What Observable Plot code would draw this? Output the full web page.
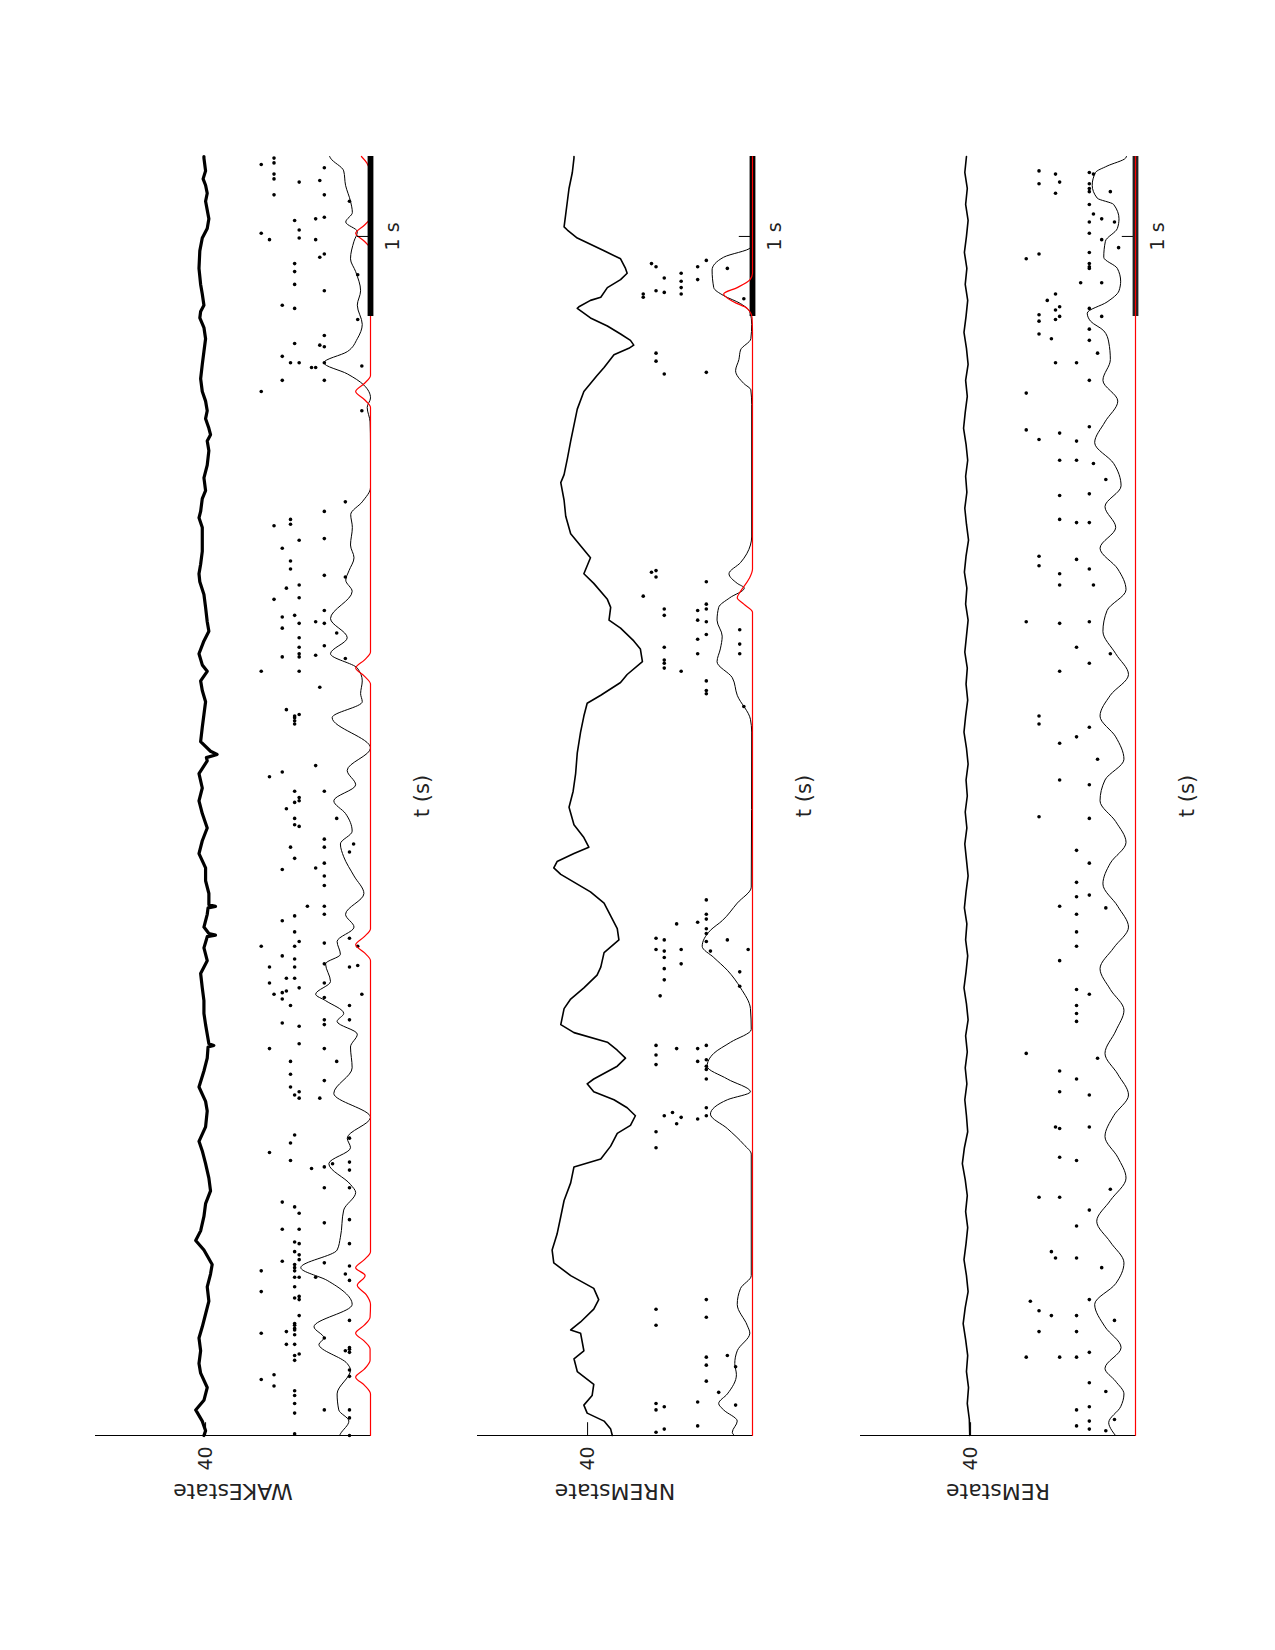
<!DOCTYPE html>
<html><head><meta charset="utf-8">
<script src="https://cdn.jsdelivr.net/npm/d3@7"></script>
<script src="https://cdn.jsdelivr.net/npm/@observablehq/plot@0.6"></script>
<style>
html,body{margin:0;padding:0;background:#fff;}
#fig{position:relative;width:1275px;height:1650px;overflow:hidden;}
#fig svg{position:absolute;top:0;}
</style></head><body><div id="fig"></div>
<script>
// value of each raster row (row index 0 = top row)
const rowValues = [26.5,25.5,24.5,23.4,22.4,21.4,20.4,19.4,18.4,17.3,16.3,15.3,14.3,13.3,12.3,11.2,10.2,9.2,8.2,7.2,6.1,5.1,4.1,3.1,2.1,1.05];
const yTicks = [40];
const scaleBar = [{start: 7, end: 8, label: "1 s"}];
const xLabel = "t (s)";
const valueMax = 66.7;
const tMax = 8;

// ---------- WAKE ----------
const wakeTrace = [[8.0,40.4],[7.99,40.4],[7.91,40.0],[7.86,40.6],[7.82,40.0],[7.77,39.6],[7.72,40.0],[7.61,39.2],[7.55,39.6],[7.49,40.8],[7.41,41.4],[7.30,41.6],[7.20,41.2],[7.14,40.8],[7.07,40.4],[7.03,41.2],[6.99,41.4],[6.93,40.4],[6.86,40.0],[6.78,40.4],[6.70,40.8],[6.61,41.2],[6.53,40.8],[6.47,40.0],[6.41,39.6],[6.36,40.0],[6.30,39.2],[6.26,38.8],[6.22,39.6],[6.16,39.2],[6.07,39.6],[5.99,40.4],[5.91,40.0],[5.86,40.8],[5.78,41.2],[5.74,41.6],[5.68,40.8],[5.62,40.8],[5.53,40.8],[5.45,41.2],[5.39,41.6],[5.34,41.4],[5.26,40.4],[5.18,40.0],[5.09,39.6],[5.03,39.2],[4.97,40.4],[4.89,41.6],[4.82,40.8],[4.78,39.6],[4.72,41.2],[4.66,40.8],[4.59,40.0],[4.51,40.4],[4.43,40.8],[4.34,41.2],[4.28,38.8],[4.26,37.2],[4.24,39.8],[4.22,39.6],[4.14,41.6],[4.05,40.8],[3.97,41.6],[3.89,40.8],[3.80,39.6],[3.72,40.8],[3.64,41.6],[3.55,40.0],[3.47,40.0],[3.39,39.2],[3.32,39.2],[3.31,37.6],[3.30,39.4],[3.26,39.6],[3.18,40.4],[3.14,39.2],[3.13,37.6],[3.12,39.6],[3.05,40.4],[2.97,39.6],[2.89,41.2],[2.80,40.8],[2.72,40.4],[2.64,40.4],[2.57,40.0],[2.45,39.2],[2.44,38.0],[2.43,39.4],[2.36,39.6],[2.28,40.4],[2.18,41.6],[2.09,40.0],[2.03,39.6],[1.93,40.0],[1.84,41.6],[1.78,40.8],[1.70,40.0],[1.61,39.2],[1.53,38.8],[1.45,40.0],[1.37,40.4],[1.28,41.2],[1.22,42.4],[1.16,40.4],[1.07,38.4],[1.01,38.8],[0.93,39.6],[0.84,39.2],[0.76,40.0],[0.68,40.8],[0.61,41.6],[0.53,41.2],[0.45,41.6],[0.39,41.2],[0.30,39.6],[0.22,40.4],[0.16,42.4],[0.09,40.8],[0.03,40.0],[0.0,40.4]];
const wakeSpikes = [[7.99,3],[7.96,3],[7.95,0],[7.89,3],[7.86,3],[7.93,15],[7.85,14],[7.84,9],[7.76,3],[7.76,15],[7.72,21],[7.62,15],[7.61,13],[7.60,8],[7.54,9],[7.52,0],[7.48,2],[7.49,9],[7.48,13],[7.39,15],[7.37,14],[7.33,8],[7.28,8],[7.26,23],[7.20,8],[7.16,15],[7.07,5],[7.05,8],[6.98,23],[6.88,15],[6.83,8],[6.82,14],[6.81,15],[6.75,5],[6.71,7],[6.71,9],[6.71,15],[6.68,12],[6.68,13],[6.69,24],[6.60,5],[6.60,15],[6.53,0],[6.41,24],[5.84,20],[5.78,15],[5.73,7],[5.70,7],[5.69,3],[5.60,9],[5.61,15],[5.55,5],[5.47,7],[5.42,7],[5.38,15],[5.37,20],[5.30,6],[5.32,9],
[5.23,3],[5.24,9],[5.16,15],[5.12,5],[5.13,8],[5.08,9],[5.09,13],[5.08,15],[5.05,5],[5.02,18],[4.99,9],[4.93,9],[4.94,15],[4.89,9],[4.87,5],[4.87,9],[4.88,13],[4.86,20],[4.78,0],[4.78,9],[4.68,14],[4.54,6],[4.50,8],[4.51,9],[4.49,8],[4.47,8],[4.45,8],[4.19,13],[4.15,5],[4.12,2],[4.03,15],[4.03,8],[3.99,9],[3.97,9],[3.96,8],[3.92,6],[3.86,8],[3.86,18],[3.82,8],[3.81,9],[3.73,15],[3.70,22],[3.68,15],[3.68,7],[3.65,21],[3.61,8],[3.58,15],[3.54,5],[3.55,13],[3.50,15],[3.44,15],[3.31,11],[3.31,15],[3.26,15],[3.25,8],[3.22,5],[3.15,8],[3.11,21],[3.09,9],[3.06,0],[3.06,8],[3.08,15],[3.06,23],[3.00,5],[2.98,8],[2.95,15],[2.93,2],[2.93,8],[2.93,21],[2.94,23],[2.86,6],[2.86,8],[2.83,2],[2.83,15],[2.80,9],[2.77,5],[2.78,6],[2.76,3],[2.76,24],[2.73,5],[2.74,15],[2.69,7],[2.69,21],[2.60,15],[2.60,21],
[2.57,15],[2.58,5],[2.56,9],[2.45,9],[2.42,2],[2.42,15],[2.34,18],[2.34,7],[2.26,7],[2.22,15],[2.18,7],[2.13,8],[2.15,9],[2.11,9],[2.11,14],[1.88,8],[1.83,7],[1.86,21],[1.77,2],[1.72,7],[1.67,12],[1.68,15],[1.70,17],[1.71,21],[1.66,21],[1.55,15],[1.55,21],[1.46,5],[1.43,8],[1.39,9],[1.33,15],[1.35,21],[1.29,5],[1.29,9],[1.21,8],[1.20,9],[1.20,21],[1.15,8],[1.13,9],[1.09,5],[1.10,9],[1.07,8],[1.08,15],[1.03,0],[1.05,8],[1.03,8],[1.06,21],[1.01,20],[0.99,8],[0.99,9],[0.99,13],[0.97,21],[0.93,8],[0.90,0],[0.86,8],[0.87,9],[0.85,9],[0.75,9],[0.72,21],[0.70,8],[0.69,8],[0.67,8],[0.66,8],[0.63,8],[0.65,6],[0.64,0],[0.61,15],[0.57,6],[0.57,8],[0.55,21],[0.53,20],[0.54,21],[0.52,21],[0.51,9],[0.50,8],[0.47,8],[0.41,21],[0.37,21],[0.38,3],[0.35,0],[0.31,3],[0.28,8],[0.25,8],[0.20,8],[0.16,15],[0.14,8],[0.16,21],[0.11,21],[0.01,8],[0.00,21]];
const wakeRate = [[8.0,9.9],[7.99,9.7],[7.91,6.5],[7.82,6.05],[7.72,4.85],[7.65,4.4],[7.59,6.0],[7.53,3.2],[7.47,4.0],[7.36,4.85],[7.28,3.6],[7.16,2.4],[7.07,3.2],[6.95,2.0],[6.86,3.2],[6.78,5.6],[6.71,11.3],[6.64,5.6],[6.57,1.6],[6.49,0.0],[6.43,0.8],[6.34,0.1],[6.2,0],[6.05,0],[5.93,0.0],[5.84,2.0],[5.76,4.8],[5.68,4.4],[5.57,4.85],[5.49,4.0],[5.41,5.2],[5.35,6.0],[5.28,4.45],[5.11,9.7],[4.99,5.65],[4.89,9.7],[4.80,3.2],[4.72,2.0],[4.64,2.4],[4.59,2.0],[4.49,9.3],[4.30,0.0],[4.16,5.65],[4.07,3.6],[3.97,8.9],[3.89,6.05],[3.78,4.45],[3.70,7.3],[3.62,6.5],[3.50,4.0],[3.39,1.6],[3.26,6.05],[3.18,4.0],[3.09,8.1],[3.01,7.3],[2.95,10.9],[2.84,9.7],[2.76,13.3],[2.72,10.9],[2.64,6.5],[2.59,8.1],[2.51,3.2],[2.43,4.85],[2.30,4.45],[2.14,8.9],[1.99,0.0],[1.86,5.65],[1.80,4.85],[1.70,10.1],[1.57,4.85],[1.52,3.6],[1.41,6.5],[1.24,7.3],[1.16,8.1],[1.05,16.9],[0.97,10.5],[0.82,4.45],[0.68,13.7],[0.61,11.3],[0.57,12.5],[0.45,5.65],[0.41,4.85],[0.26,8.1],[0.16,7.7],[0.09,5.25],[0.01,7.3],[0,7.5]];
const wakeRed = [[8.0,2.2],[7.96,0.9],[7.91,0.15],[7.86,0],[7.62,0],[7.57,1.5],[7.52,3.6],[7.47,1.5],[7.42,0],[6.63,0],[6.58,1.5],[6.53,3.6],[6.48,1.5],[6.43,0],[4.90,0],[4.85,1.5],[4.80,3.6],[4.75,1.5],[4.70,0],[3.17,0],[3.12,1.5],[3.07,3.6],[3.02,1.5],[2.97,0],[1.15,0],[1.10,1.5],[1.05,3.6],[1.00,1.3],[0.94,3.2],[0.88,1.0],[0.82,0],[0.74,0.1],[0.69,1.5],[0.64,3.6],[0.59,1.5],[0.54,0.1],[0.47,0.1],[0.415,1.5],[0.365,3.6],[0.315,1.5],[0.26,0],[0,0]];

// ---------- NREM ----------
const nremTrace = [[8.0,43.3],[7.99,43.3],[7.90,43.7],[7.80,44.5],[7.72,44.9],[7.64,45.3],[7.56,45.7],[7.54,44.9],[7.49,42.5],[7.41,36.0],[7.36,32.0],[7.30,30.8],[7.27,30.4],[7.23,32.0],[7.18,35.2],[7.12,36.8],[7.10,39.3],[7.06,42.1],[7.05,42.5],[6.99,39.3],[6.94,35.2],[6.89,32.0],[6.85,29.6],[6.82,28.8],[6.80,30.0],[6.76,33.6],[6.68,36.0],[6.63,37.7],[6.58,39.3],[6.53,40.9],[6.42,42.5],[6.32,43.3],[6.22,44.1],[6.11,44.9],[6.01,45.7],[5.96,46.5],[5.85,45.7],[5.75,45.3],[5.64,44.1],[5.59,42.5],[5.54,40.9],[5.49,39.3],[5.44,40.1],[5.39,40.9],[5.33,38.5],[5.23,35.2],[5.18,34.4],[5.10,34.8],[5.05,32.0],[4.97,28.8],[4.92,27.2],[4.84,26.7],[4.76,30.4],[4.71,32.0],[4.63,36.8],[4.58,40.1],[4.50,40.9],[4.40,41.7],[4.27,42.5],[4.14,42.9],[4.03,43.5],[3.93,44.5],[3.82,43.3],[3.74,40.9],[3.68,39.7],[3.64,43.3],[3.59,47.4],[3.55,48.2],[3.51,46.5],[3.40,39.3],[3.33,36.0],[3.25,34.4],[3.17,32.8],[3.10,32.4],[3.02,36.0],[2.93,36.8],[2.88,37.7],[2.80,40.9],[2.73,44.1],[2.67,45.7],[2.57,46.5],[2.52,43.3],[2.46,35.2],[2.41,32.8],[2.36,30.8],[2.31,32.8],[2.23,38.5],[2.20,40.1],[2.15,38.5],[2.10,33.6],[2.05,30.4],[2.00,28.4],[1.94,29.6],[1.89,32.8],[1.81,34.4],[1.73,36.8],[1.68,43.3],[1.58,44.1],[1.47,45.7],[1.37,46.5],[1.26,47.4],[1.16,48.6],[1.08,48.2],[1.00,44.1],[0.92,38.5],[0.85,37.3],[0.79,38.5],[0.71,41.7],[0.66,44.1],[0.64,41.7],[0.53,40.9],[0.48,43.3],[0.40,42.5],[0.32,38.5],[0.25,38.9],[0.19,40.9],[0.14,40.1],[0.09,36.0],[0.04,34.4],[0.0,34.0]];
const nremSpikes = [[7.35,15],[7.33,2],[7.31,3],[7.31,13],[7.30,20],[7.27,9],[7.24,5],[7.23,13],[7.22,9],[7.18,9],[7.14,0],[7.12,0],[7.16,3],[7.15,5],[7.14,9],[7.11,24],[6.77,3],[6.72,3],[6.64,5],[6.65,15],[5.40,2],[5.41,3],[5.37,3],[5.34,15],[5.25,0],[5.17,5],[5.13,5],[5.16,13],[5.20,15],[5.17,15],[5.10,13],[5.09,15],[5.04,23],[4.98,13],[5.01,15],[4.95,23],[4.93,5],[4.89,13],[4.89,23],[4.85,5],[4.83,5],[4.80,5],[4.78,9],[4.72,15],[4.66,15],[4.64,15],[4.56,24],
[3.35,15],[3.26,15],[3.21,13],[3.20,8],[3.23,15],[3.17,15],[3.14,15],[3.11,3],[3.10,5],[3.09,15],[3.10,20],[3.04,3],[3.03,5],[3.04,9],[3.03,16],[3.04,25],[2.99,5],[2.92,5],[2.95,9],[2.90,23],[2.85,5],[2.81,23],[2.75,4],[2.44,3],[2.42,8],[2.42,13],[2.44,15],[2.38,3],[2.34,13],[2.35,15],[2.32,3],[2.31,15],[2.29,15],[2.23,15],[2.05,15],[2.00,15],[2.00,5],[2.02,7],[1.95,8],[1.99,9],[1.98,13],[1.90,3],[1.80,3],[0.85,15],[0.79,3],[0.74,15],[0.69,3],[0.49,15],[0.50,20],[0.44,15],[0.43,22],[0.34,15],[0.27,18],[0.20,3],[0.16,3],[0.02,3],[0.18,5],[0.04,5],[0.21,13],[0.06,13],[0.19,22]];
const nremRate = [[8.0,0.2],[7.45,0.3],[7.43,0.5],[7.37,7.0],[7.29,9.8],[7.18,9.4],[7.13,7.0],[7.08,2.9],[7.02,0.5],[6.95,0.2],[6.86,0.4],[6.79,2.9],[6.73,3.3],[6.66,4.1],[6.58,2.1],[6.54,0.4],[6.45,0.2],[5.62,0.2],[5.57,0.5],[5.46,2.9],[5.39,5.7],[5.33,3.7],[5.30,2.0],[5.24,5.5],[5.18,8.2],[5.10,8.6],[5.00,7.35],[4.92,7.8],[4.84,8.6],[4.74,4.9],[4.63,3.7],[4.48,0.5],[4.40,0.2],[3.43,0.3],[3.33,3.7],[3.22,7.35],[3.16,10.2],[3.06,12.2],[2.99,9.4],[2.91,6.1],[2.80,2.9],[2.67,0.5],[2.54,0.3],[2.46,5.3],[2.39,9.4],[2.31,11.0],[2.23,6.1],[2.15,0.5],[2.10,6.1],[2.01,10.2],[1.92,6.1],[1.82,2.1],[1.76,0.3],[1.00,0.3],[0.92,2.9],[0.82,3.7],[0.69,1.3],[0.64,0.65],[0.53,3.7],[0.45,4.3],[0.38,3.9],[0.26,6.1],[0.20,8.2],[0.16,7.0],[0.09,3.7],[0.02,4.9],[0.0,4.4]];
const nremRed = [[8.0,0],[7.27,0],[7.23,0.6],[7.18,3.7],[7.14,7.0],[7.09,4.5],[7.05,1.3],[6.99,0.1],[6.9,0],[5.42,0],[5.36,0.8],[5.28,2.9],[5.24,3.7],[5.20,2.1],[5.15,0],[0,0]];

// ---------- REM ----------
const remTrace = [[8.0,41.0],[7.9,41.4],[7.8,40.8],[7.7,41.2],[7.6,40.6],[7.5,41.0],[7.4,41.5],[7.3,40.9],[7.2,41.3],[7.1,40.7],[7.0,41.1],[6.9,41.6],[6.8,41.0],[6.7,40.6],[6.6,41.2],[6.5,40.8],[6.4,41.3],[6.3,41.7],[6.2,41.1],[6.1,40.7],[6.0,41.2],[5.9,40.9],[5.8,41.4],[5.7,41.0],[5.6,40.5],[5.5,41.1],[5.4,41.5],[5.3,40.9],[5.2,41.2],[5.1,40.6],[5.0,41.0],[4.9,41.4],[4.8,40.8],[4.7,41.1],[4.6,40.7],[4.5,41.2],[4.4,41.6],[4.3,41.0],[4.2,40.6],[4.1,41.1],[4.0,40.8],[3.9,41.3],[3.8,40.9],[3.7,41.4],[3.6,41.0],[3.5,40.6],[3.4,41.1],[3.3,41.5],[3.2,40.9],[3.1,41.2],[3.0,40.7],[2.9,41.1],[2.8,41.6],[2.7,41.0],[2.6,40.6],[2.5,41.2],[2.4,40.8],[2.3,41.3],[2.2,40.9],[2.1,41.4],[2.0,41.0],[1.9,40.7],[1.8,41.5],[1.7,42.0],[1.6,41.3],[1.5,40.8],[1.4,41.2],[1.3,40.7],[1.2,41.1],[1.1,41.6],[1.0,41.0],[0.9,40.6],[0.8,41.3],[0.7,41.8],[0.6,41.2],[0.5,40.7],[0.4,41.0],[0.3,40.5],[0.2,40.8],[0.1,40.3],[0.0,40.2]];
const remSpikes = [[7.91,3],[7.89,7],[7.84,8],[7.77,7],[7.83,3],[7.90,15],[7.89,16],[7.83,15],[7.80,15],[7.78,15],[7.78,20],[7.70,15],[7.64,16],[7.61,18],[7.59,15],[7.59,21],[7.52,15],[7.48,18],[7.43,22],[7.40,15],[7.33,15],[7.31,15],[7.30,15],[7.21,13],[7.21,18],[7.39,3],[7.10,5],[7.14,7],[7.06,8],[7.04,7],[7.00,8],[6.98,7],[7.01,3],[6.97,3],[6.86,6],[6.89,3],[7.05,15],[7.00,18],[6.92,15],[6.85,15],[7.36,0],
[6.71,7],[6.71,12],[6.60,15],[6.52,0],[6.29,0],[6.23,3],[6.27,8],[6.31,15],[6.22,12],[6.10,8],[6.10,12],[6.08,16],[5.88,8],[5.89,15],[5.73,8],[5.71,12],[5.71,15],[5.50,3],[5.44,3],[5.39,8],[5.32,8],[5.48,12],[5.42,15],[5.32,16],[5.09,0],[5.08,8],[5.09,15],[4.93,12],[4.78,8],[4.83,15],[4.50,3],[4.45,3],[4.33,8],[4.37,12],[4.43,15],[4.10,8],[4.07,15],[3.87,3],[3.86,15],[3.66,12],[3.58,15],[3.46,12],[3.37,12],[3.26,12],[3.15,12],[3.06,12],[3.31,8],[3.38,15],[2.97,8],[2.79,12],[2.69,12],[2.64,12],[2.59,12],[2.76,15],[2.39,0],[2.28,8],[2.15,8],[2.23,12],[2.13,15],[1.93,7],[1.92,8],[1.93,15],[1.74,8],[1.72,12],[1.49,3],[1.49,8],[1.31,12],[1.41,15],[1.15,6],[1.11,7],[1.11,12],[0.84,1],[0.78,3],[0.65,3],[0.75,6],[0.75,12],[0.65,12],[0.85,15],[0.49,0],[0.49,8],[0.49,12],[0.52,15],
[6.77,17],[5.98,19],[4.89,20],[4.23,17],[3.30,19],[2.36,17],[1.54,20],[1.05,18],[0.72,21],
[0.16,12],[0.06,12],[0.33,15],[0.18,15],[0.09,15],[0.04,15],[0.275,19],[0.10,21],[0.03,19]];
const remRate = [[8.0,2.2],[7.99,2.4],[7.94,6.9],[7.90,9.7],[7.82,10.5],[7.74,9.3],[7.70,5.3],[7.61,4.0],[7.55,4.4],[7.47,7.3],[7.37,7.7],[7.30,4.4],[7.22,3.6],[7.16,4.0],[7.09,6.9],[7.02,11.7],[6.97,10.9],[6.91,7.7],[6.84,6.5],[6.73,6.1],[6.60,7.9],[6.47,4.3],[6.34,7.4],[6.21,9.9],[6.08,5.3],[5.94,3.5],[5.81,7.4],[5.68,4.8],[5.55,8.6],[5.42,4.3],[5.29,2.3],[5.16,6.9],[5.03,7.9],[4.89,4.8],[4.76,1.7],[4.63,6.1],[4.50,8.6],[4.37,4.8],[4.23,2.8],[4.10,7.4],[3.97,8.6],[3.84,4.8],[3.71,2.3],[3.58,6.1],[3.45,7.9],[3.31,4.3],[3.18,1.7],[3.05,5.3],[2.92,8.6],[2.79,6.1],[2.66,2.8],[2.53,4.8],[2.39,7.4],[2.26,4.3],[2.13,1.7],[2.00,5.3],[1.87,7.4],[1.74,4.3],[1.61,2.3],[1.47,6.1],[1.34,9.4],[1.21,6.1],[1.08,2.8],[0.95,4.8],[0.82,9.9],[0.68,7.4],[0.55,3.5],[0.42,7.4],[0.34,4.85],[0.26,2.8],[0.18,3.6],[0.08,6.5],[0.03,5.7],[0.0,4.85]];
const remRed = [[8.0,0],[0,0]];

const panels = [
  {label: "WAKEstate", trace: wakeTrace, spikes: wakeSpikes, rate: wakeRate, red: wakeRed, base: 370, traceWidth: 3.2, bar: "#000", redOnTop: false},
  {label: "NREMstate", trace: nremTrace, spikes: nremSpikes, rate: nremRate, red: nremRed, base: 752, traceWidth: 1.6, bar: "#000", redOnTop: true},
  {label: "REMstate", trace: remTrace, spikes: remSpikes, rate: remRate, red: remRed, base: 1135, traceWidth: 1.6, bar: "#222", redOnTop: true}
];

const W = 383, H = 1650, PW = 275;
const fig = document.getElementById("fig");
const byT = (a) => d3.sort(a, d => d[0]);

for (const p of panels) {
  const left = p.base - PW - 25;
  const redMark = Plot.line(byT(p.red), {x: d => d[1], y: d => d[0], stroke: "#ff0000", strokeWidth: 1.2, curve: "monotone-y"});
  const barMarks = [
    Plot.ruleY(scaleBar, {y: d => (d.start + d.end) / 2, x1: 0, x2: 3.2, stroke: "#000", strokeWidth: 1}),
    Plot.ruleX(scaleBar, {x: 0, y1: "start", y2: "end", stroke: p.bar, strokeWidth: 5.8})
  ];
  const marks = [
    Plot.frame({anchor: "bottom", stroke: "#000", strokeWidth: 1}),
    Plot.ruleX(yTicks, {x: d => d, y1: 0, y2: 0.08, stroke: "#000", strokeWidth: 1}),
    Plot.text(yTicks, {x: d => d, text: d => String(d), frameAnchor: "bottom", dy: 23, rotate: -90, textAnchor: "middle", lineAnchor: "middle", fontSize: 19, fill: "#222"}),
    Plot.text([p.label], {frameAnchor: "bottom", dy: 56, rotate: 180, textAnchor: "middle", lineAnchor: "middle", fontSize: 22, fill: "#222"}),
    Plot.text([xLabel], {frameAnchor: "right", dx: 52, rotate: -90, textAnchor: "middle", lineAnchor: "middle", fontSize: 21, fill: "#222"}),
    Plot.text(scaleBar, {y: d => (d.start + d.end) / 2, text: "label", frameAnchor: "right", dx: 22, rotate: -90, textAnchor: "middle", lineAnchor: "middle", fontSize: 19, fill: "#222"}),
    Plot.line(byT(p.trace), {x: d => d[1], y: d => d[0], stroke: "#000", strokeWidth: p.traceWidth, strokeLinejoin: "round"}),
    Plot.dot(p.spikes, {x: d => rowValues[d[1]], y: d => d[0], r: 1.8, fill: "#000", stroke: "none"}),
    Plot.line(byT(p.rate), {x: d => d[1], y: d => d[0], stroke: "#000", strokeWidth: 1, curve: "monotone-y"}),
    ...(p.redOnTop ? [...barMarks, redMark] : [redMark, ...barMarks])
  ];
  const svg = Plot.plot({
    width: W, height: H,
    marginLeft: 25, marginRight: W - 25 - PW, marginTop: 156, marginBottom: 215,
    x: {domain: [0, valueMax], reverse: true, axis: null},
    y: {domain: [0, tMax], axis: null},
    style: {background: "transparent", fontFamily: "DejaVu Sans", overflow: "visible"},
    marks
  });
  svg.style.left = left + "px";
  fig.appendChild(svg);
}
</script></body></html>
